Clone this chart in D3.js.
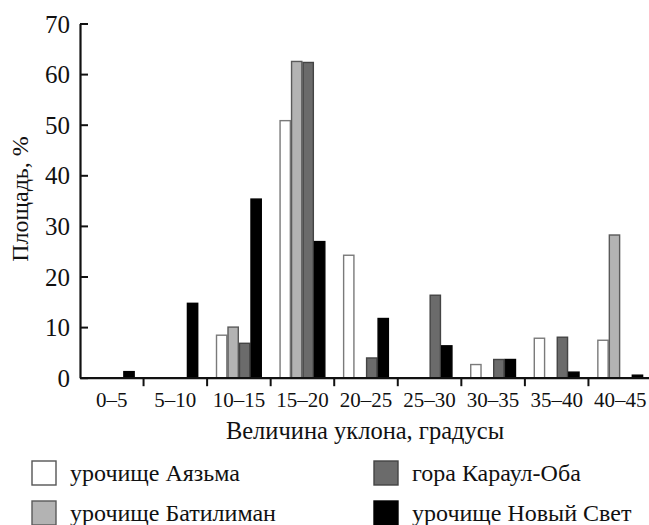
<!DOCTYPE html>
<html>
<head>
<meta charset="utf-8">
<script src="https://cdn.jsdelivr.net/npm/d3@7"></script>
<style>
  html, body { margin: 0; padding: 0; background: #fff; }
  svg { display: block; }
  svg text { font-family: "Liberation Serif", "Times New Roman", Times, "Nimbus Roman", "Nimbus Roman No9 L", "FreeSerif", "Noto Serif", "Tinos", "DejaVu Serif", serif !important; fill: #111; }
</style>
</head>
<body>
<svg id="chart" width="649" height="525"></svg>
<script>
const categories = ["0–5", "5–10", "10–15", "15–20", "20–25", "25–30", "30–35", "35–40", "40–45"];
const seriesNames = ["урочище Аязьма", "урочище Батилиман", "гора Караул-Оба", "урочище Новый Свет"];
const aiazma    = [0, 0, 8.4, 50.8, 24.2, 0, 2.6, 7.8, 7.4];
const batiliman = [0, 0, 10.0, 62.5, 0, 0, 0, 0, 28.2];
const karaulOba = [0, 0, 6.8, 62.3, 3.9, 16.3, 3.6, 8.0, 0];
const novySvet  = [1.2, 14.7, 35.3, 26.9, 11.7, 6.3, 3.6, 1.1, 0.5];
const yTicks = [0, 10, 20, 30, 40, 50, 60, 70];
const yTitle = "Площадь, %";
const xTitle = "Величина уклона, градусы";

const seriesValues = [aiazma, batiliman, karaulOba, novySvet];
const fills   = ["#ffffff", "#b3b3b3", "#6b6b6b", "#000000"];
const strokes = ["#7a7a7a", "#5a5a5a", "#444444", "#000000"];

const svg = d3.select("#chart");
const mLeft = 80, mRight = 652, mTop = 23.5, mBottom = 377.7;

const x = d3.scaleBand().domain(categories).range([mLeft, mRight]).padding(0);
const groupPad = 8.8;
const x1 = d3.scaleBand().domain(seriesNames).range([groupPad, x.bandwidth() - groupPad]).padding(0);
const y = d3.scaleLinear().domain([0, 70]).range([mBottom, mTop]);

// bars
const data = [];
seriesNames.forEach((s, si) => {
  categories.forEach((c, ci) => {
    const v = seriesValues[si][ci];
    if (v > 0) data.push({ s, si, c, v });
  });
});
svg.append("g").selectAll("rect").data(data).join("rect")
  .attr("x", d => x(d.c) + x1(d.s) + 0.6)
  .attr("width", x1.bandwidth() - 1.2)
  .attr("y", d => y(d.v))
  .attr("height", d => y(0) - y(d.v))
  .attr("fill", d => fills[d.si])
  .attr("stroke", d => strokes[d.si])
  .attr("stroke-width", 1.4);

// y axis
const yAxis = d3.axisLeft(y).tickValues(yTicks).tickFormat(d3.format("d"))
  .tickSizeInner(-8).tickSizeOuter(0).tickPadding(10);
const gy = svg.append("g").attr("transform", `translate(${mLeft},0)`).call(yAxis);
gy.attr("font-family", null);
gy.select(".domain").attr("stroke", "#111").attr("stroke-width", 2.2);
gy.selectAll(".tick line").attr("stroke", "#111").attr("stroke-width", 2);
gy.selectAll("text").attr("font-size", 25).attr("fill", "#111").attr("dy", "0.34em");

// x axis
const xAxis = d3.axisBottom(x).tickSize(0).tickSizeOuter(0);
const gx = svg.append("g").attr("transform", `translate(0,${mBottom})`).call(xAxis);
gx.attr("font-family", null);
gx.select(".domain").attr("stroke", "#111").attr("stroke-width", 2.2);
gx.selectAll("text").attr("font-size", 21).attr("fill", "#111")
  .attr("dy", 0).attr("y", 29.5);
// boundary ticks between categories
gx.append("g").selectAll("line").data(categories.slice(1)).join("line")
  .attr("x1", d => x(d)).attr("x2", d => x(d))
  .attr("y1", 0).attr("y2", 8.5)
  .attr("stroke", "#111").attr("stroke-width", 2);

// titles
svg.append("text").attr("x", 365).attr("y", 438.5).attr("text-anchor", "middle")
  .attr("font-size", 24.5).text(xTitle);
svg.append("text").attr("transform", "translate(28,199) rotate(-90)").attr("text-anchor", "middle")
  .attr("font-size", 24).text(yTitle);

// legend
const legendPos = [
  { sx: 32, sy: 461, tx: 70 },
  { sx: 32, sy: 501, tx: 70 },
  { sx: 374, sy: 461, tx: 412 },
  { sx: 374, sy: 501, tx: 412 }
];
const lg = svg.append("g");
seriesNames.forEach((s, i) => {
  const p = legendPos[i];
  lg.append("rect").attr("x", p.sx).attr("y", p.sy).attr("width", 24).attr("height", 24)
    .attr("fill", fills[i]).attr("stroke", i === 0 ? "#555" : strokes[i]).attr("stroke-width", 1.4);
  lg.append("text").attr("x", p.tx).attr("y", p.sy + 20).attr("font-size", 24).text(s);
});
</script>
</body>
</html>
